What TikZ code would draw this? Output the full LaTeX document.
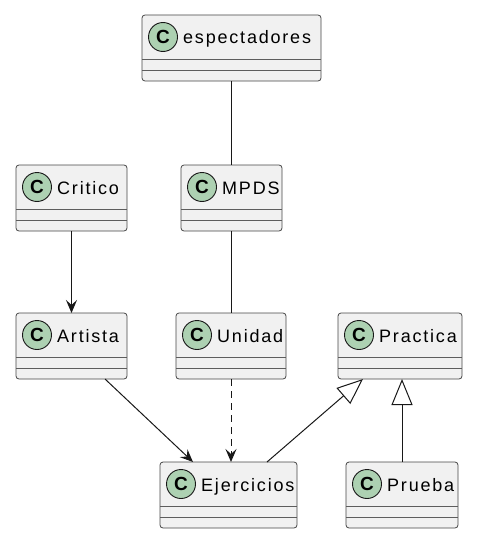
\documentclass[tikz,border=0pt]{standalone}
\usepackage{fontspec}
\setmainfont{Liberation Sans}
\newfontfamily\umlfont{Liberation Sans}[LetterSpace=10]
\usetikzlibrary{arrows.meta}
\definecolor{umlfill}{HTML}{F1F1F1}
\definecolor{umlline}{HTML}{181818}
\definecolor{badge}{HTML}{ADD1B2}
\tikzset{
  classbox/.style={draw=umlline!80, line width=0.8pt, fill=umlfill, rounded corners=3pt,
    minimum height=66pt, inner sep=0pt, outer sep=0pt, anchor=north west},
  sepline/.style={draw=umlline!70, line width=0.8pt},
  cbadge/.style={circle, draw=umlline, line width=0.9pt, fill=badge, minimum size=29pt,
    inner sep=0pt, font=\fontsize{19}{19}\selectfont\bfseries},
  ctext/.style={anchor=base west, inner sep=0pt, font=\umlfont\fontsize{18}{18}\selectfont, text=black},
  conn/.style={draw=umlline, line width=1pt},
  assoc/.style={conn, -{Stealth[length=13pt,width=11pt,inset=5pt]}},
  depend/.style={conn, dash pattern=on 7pt off 5pt, -{Stealth[length=13pt,width=11pt,inset=5pt]}},
  inherit/.style={conn, -{Triangle[open, fill=white, length=26pt, width=21pt]}},
}
\newcommand{\umlclass}[5]{%
  \node[classbox, minimum width=#4pt] (#1) at (#2,#3) {};
  \draw[sepline] ([yshift=-44pt]#1.north west) -- ([yshift=-44pt]#1.north east);
  \draw[sepline] ([yshift=-55pt]#1.north west) -- ([yshift=-55pt]#1.north east);
  \node[cbadge] (#1-c) at ([xshift=21pt,yshift=-22pt]#1.north west) {C};
  \node[ctext] (#1-t) at ([xshift=41pt,yshift=-29pt]#1.north west) {#5};
}
\begin{document}
\begin{tikzpicture}[x=1pt,y=-1pt]
\useasboundingbox (0,0) rectangle (480,551);
\umlclass{esp}{142}{15}{179}{espectadores}
\umlclass{cri}{16}{165}{111}{Critico}
\umlclass{mpd}{181}{165}{101}{MPDS}
\umlclass{art}{16}{313}{111}{Artista}
\umlclass{uni}{176}{313}{110}{Unidad}
\umlclass{pra}{338}{313}{124}{Practica}
\umlclass{eje}{160}{462}{137}{Ejercicios}
\umlclass{pru}{346}{462}{112}{Prueba}

\draw[conn] (esp.south) -- (esp.south |- mpd.north);
\draw[conn] (mpd.south) -- (mpd.south |- uni.north);
\draw[assoc] (cri.south) -- (cri.south |- art.north);
\draw[depend] (uni.south) -- (uni.south |- eje.north);
\draw[assoc] ([xshift=89pt]art.south west) -- ([xshift=33pt]eje.north west);
\draw[inherit] ([xshift=107pt]eje.north west) -- ([xshift=25pt]pra.south west);
\draw[inherit] (pru.north) -- (pru.north |- pra.south);
\end{tikzpicture}
\end{document}
